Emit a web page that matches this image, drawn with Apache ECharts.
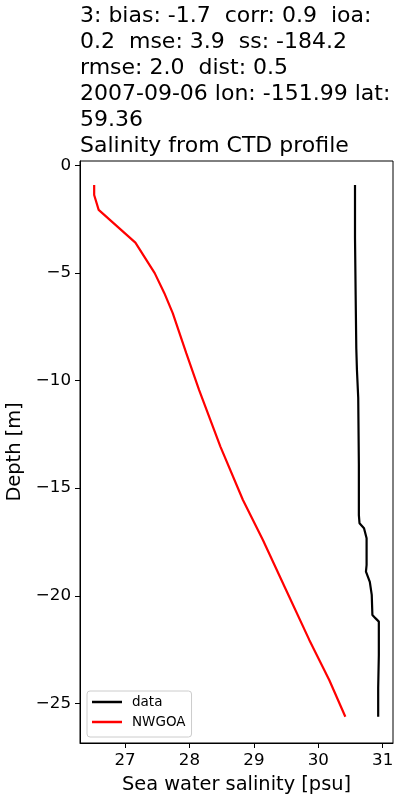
<!DOCTYPE html>
<html>
<head>
<meta charset="utf-8">
<script src="https://cdn.jsdelivr.net/npm/echarts@6/dist/echarts.min.js"></script>
<style>
html,body{margin:0;padding:0;background:#fff;}
#chart{width:400px;height:800px;}
</style>
</head>
<body>
<div id="chart"></div>
<script>
// Observed CTD profile (salinity, depth)
const dataSalinity = [30.57,30.57,30.54,30.57,30.58,30.59,30.60,30.62,30.63,30.63,30.64,30.71,30.75,30.75,30.74,30.80,30.83,30.84,30.89,30.94,30.94,30.93,30.93];
const dataDepth    = [-0.91,-3.20,-3.27,-3.35,-6.00,-8.50,-9.50,-10.80,-13.90,-16.25,-16.63,-16.86,-17.33,-18.57,-18.88,-19.35,-19.96,-20.89,-21.05,-21.20,-22.75,-24.30,-25.62];
// Model profile NWGOA
const modelSalinity = [26.52,26.52,26.59,27.16,27.46,27.61,27.74,27.95,28.15,28.48,28.83,29.14,29.50,29.86,30.17,30.42];
const modelDepth    = [-0.91,-1.38,-2.07,-3.59,-5.01,-5.94,-6.87,-8.73,-10.44,-13.07,-15.55,-17.41,-19.73,-22.05,-23.91,-25.62];
// Tick labels
const xTicks = [27, 28, 29, 30, 31];
const yTicks = [0, -5, -10, -15, -20, -25];
const titleText = "3: bias: -1.7  corr: 0.9  ioa:\n0.2  mse: 3.9  ss: -184.2\nrmse: 2.0  dist: 0.5\n2007-09-06 lon: -151.99 lat:\n59.36\nSalinity from CTD profile";

const font = "DejaVu Sans";
const minus = v => String(v).replace('-', '\u2212');
const zip = (a, b) => a.map((v, i) => [v, b[i]]);

const chart = echarts.init(document.getElementById('chart'), null, {renderer: 'canvas'});
chart.setOption({
  animation: false,
  backgroundColor: '#fff',
  title: {
    text: titleText,
    left: 80, top: 3, padding: 0,
    textStyle: {fontFamily: font, fontSize: 22, fontWeight: 'normal', color: '#000', lineHeight: 26}
  },
  grid: {left: 80, right: 7, top: 161, bottom: 57, outerBoundsMode: 'none', containLabel: false,
         show: true, borderColor: '#000', borderWidth: 1, backgroundColor: 'transparent'},
  legend: {
    orient: 'vertical', left: 87, top: 691,
    padding: [4, 6, 8, 5],
    itemWidth: 30, itemHeight: 2.5, itemGap: 6,
    icon: 'rect',
    backgroundColor: 'rgba(255,255,255,0.8)',
    borderColor: '#cccccc', borderWidth: 1, borderRadius: 3,
    textStyle: {fontFamily: font, fontSize: 13.5, color: '#000', lineHeight: 14, padding: [0, 0, 0, 5]},
    data: ['data', 'NWGOA']
  },
  xAxis: {
    type: 'value', min: 26.30, max: 31.16,
    name: 'Sea water salinity [psu]', nameLocation: 'middle', nameGap: 32,
    nameTextStyle: {fontFamily: font, fontSize: 19.4, color: '#000'},
    axisLine: {show: true, onZero: false, lineStyle: {color: '#000', width: 1}},
    axisTick: {show: true, length: 5, lineStyle: {color: '#000', width: 1}, customValues: xTicks},
    axisLabel: {fontFamily: font, fontSize: 16.7, color: '#000', margin: 9, customValues: xTicks, formatter: minus},
    splitLine: {show: false}
  },
  yAxis: {
    type: 'value', min: -26.84, max: 0.2,
    name: 'Depth [m]', nameLocation: 'middle', nameGap: 56, nameRotate: 90,
    nameTextStyle: {fontFamily: font, fontSize: 19.4, color: '#000'},
    axisLine: {show: true, onZero: false, lineStyle: {color: '#000', width: 1}},
    axisTick: {show: true, length: 5, lineStyle: {color: '#000', width: 1}, customValues: yTicks},
    axisLabel: {fontFamily: font, fontSize: 16.7, color: '#000', margin: 9, customValues: yTicks, formatter: minus},
    splitLine: {show: false}
  },
  series: [
    {name: 'data', type: 'line', data: zip(dataSalinity, dataDepth), showSymbol: false, symbol: 'none',
     lineStyle: {color: '#000', width: 2.2}, itemStyle: {color: '#000'}, z: 3},
    {name: 'NWGOA', type: 'line', data: zip(modelSalinity, modelDepth), showSymbol: false, symbol: 'none',
     lineStyle: {color: '#ff0000', width: 2.2}, itemStyle: {color: '#ff0000'}, z: 2}
  ]
});
</script>
</body>
</html>
